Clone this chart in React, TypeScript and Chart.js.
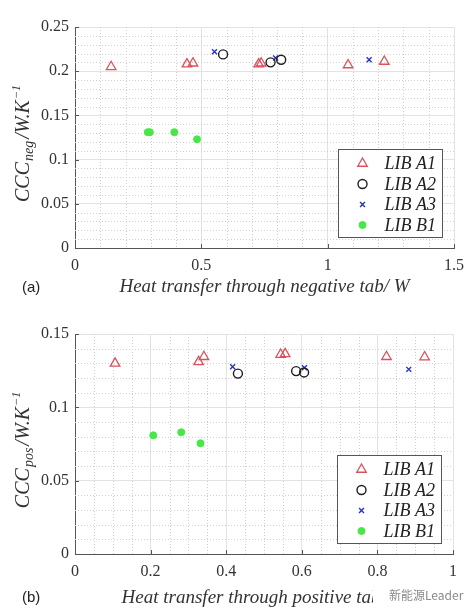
import React, { useEffect, useRef } from "react";
import { Chart, registerables } from "chart.js";

Chart.register(...registerables);

// ---------- data ----------
const seriesLabels = ["LIB A1", "LIB A2", "LIB A3", "LIB B1"];

// panel (a): negative tab
const negA1X = [0.143, 0.443, 0.467, 0.727, 0.737, 1.081, 1.224];
const negA1Y = [0.205, 0.208, 0.209, 0.208, 0.209, 0.207, 0.211];
const negA2X = [0.586, 0.774, 0.816];
const negA2Y = [0.219, 0.210, 0.213];
const negA3X = [0.552, 0.794, 1.164];
const negA3Y = [0.222, 0.215, 0.213];
const negB1X = [0.288, 0.296, 0.393, 0.483];
const negB1Y = [0.131, 0.131, 0.131, 0.123];

// panel (b): positive tab
const posA1X = [0.106, 0.327, 0.341, 0.544, 0.556, 0.824, 0.925];
const posA1Y = [0.130, 0.131, 0.1345, 0.136, 0.1365, 0.1345, 0.1343];
const posA2X = [0.431, 0.585, 0.606];
const posA2Y = [0.123, 0.1247, 0.1238];
const posA3X = [0.417, 0.607, 0.883];
const posA3Y = [0.1277, 0.127, 0.1259];
const posB1X = [0.207, 0.281, 0.332];
const posB1Y = [0.0809, 0.083, 0.0755];

// ticks
const negXTicks = [0, 0.5, 1, 1.5];
const negXTickLabels = ["0", "0.5", "1", "1.5"];
const negYTicks = [0, 0.05, 0.1, 0.15, 0.2, 0.25];
const negYTickLabels = ["0", "0.05", "0.1", "0.15", "0.2", "0.25"];
const posXTicks = [0, 0.2, 0.4, 0.6, 0.8, 1];
const posXTickLabels = ["0", "0.2", "0.4", "0.6", "0.8", "1"];
const posYTicks = [0, 0.05, 0.1, 0.15];
const posYTickLabels = ["0", "0.05", "0.1", "0.15"];

// titles
const negXTitle = "Heat transfer through negative tab/ W";
const posXTitle = "Heat transfer through positive tab/ W";
const negYTitleParts = ["CCC", "neg", "/W.K", "−1"];
const posYTitleParts = ["CCC", "pos", "/W.K", "−1"];
const panelLabels = ["(a)", "(b)"];
const watermarkText = "新能源Leader";

// ---------- styles ----------
const seriesStyles = [
  { pointStyle: "triangle", radius: 5.5, borderColor: "#dd4f5c", backgroundColor: "rgba(0,0,0,0)", borderWidth: 1.3 },
  { pointStyle: "circle", radius: 4.5, borderColor: "#1e1e1e", backgroundColor: "rgba(0,0,0,0)", borderWidth: 1.4 },
  { pointStyle: "crossRot", radius: 3.5, borderColor: "#2535c0", backgroundColor: "rgba(0,0,0,0)", borderWidth: 1.4 },
  { pointStyle: "circle", radius: 3.5, borderColor: "#45e845", backgroundColor: "#45e845", borderWidth: 1 },
];

const SERIF = '"Liberation Serif", "DejaVu Serif", serif';

function drawMarker(ctx: CanvasRenderingContext2D, s: any, x: number, y: number) {
  ctx.save();
  ctx.strokeStyle = s.borderColor;
  ctx.fillStyle = s.backgroundColor;
  ctx.lineWidth = s.borderWidth;
  const r = s.radius;
  ctx.beginPath();
  if (s.pointStyle === "triangle") {
    let rad = 0;
    ctx.moveTo(x + Math.sin(rad) * r, y - Math.cos(rad) * r);
    rad += (2 * Math.PI) / 3;
    ctx.lineTo(x + Math.sin(rad) * r, y - Math.cos(rad) * r);
    rad += (2 * Math.PI) / 3;
    ctx.lineTo(x + Math.sin(rad) * r, y - Math.cos(rad) * r);
    ctx.closePath();
    ctx.fill();
    ctx.stroke();
  } else if (s.pointStyle === "circle") {
    ctx.arc(x, y, r, 0, Math.PI * 2);
    ctx.closePath();
    ctx.fill();
    ctx.stroke();
  } else if (s.pointStyle === "crossRot") {
    const d = r * Math.cos(Math.PI / 4);
    ctx.moveTo(x - d, y - d);
    ctx.lineTo(x + d, y + d);
    ctx.moveTo(x + d, y - d);
    ctx.lineTo(x - d, y + d);
    ctx.stroke();
  }
  ctx.restore();
}

// ---------- plugins ----------
const minorGridPlugin = {
  id: "minorGrid",
  beforeDatasetsDraw(chart: any, _a: any, opts: any) {
    const { ctx, chartArea } = chart;
    const { left, right, top, bottom } = chartArea;
    const xs = chart.scales.x;
    const ys = chart.scales.y;
    ctx.save();
    ctx.strokeStyle = opts.color;
    ctx.lineWidth = 1;
    ctx.setLineDash([1, 2]);
    const nx = Math.round((xs.max - xs.min) / opts.xStep);
    for (let k = 1; k < nx; k++) {
      if (k % opts.xMajorEvery === 0) continue;
      const px = Math.round(xs.getPixelForValue(xs.min + k * opts.xStep)) + 0.5;
      ctx.beginPath();
      ctx.moveTo(px, top);
      ctx.lineTo(px, bottom);
      ctx.stroke();
    }
    const ny = Math.round((ys.max - ys.min) / opts.yStep);
    for (let k = 1; k < ny; k++) {
      if (k % opts.yMajorEvery === 0) continue;
      const py = Math.round(ys.getPixelForValue(ys.min + k * opts.yStep)) + 0.5;
      ctx.beginPath();
      ctx.moveTo(left, py);
      ctx.lineTo(right, py);
      ctx.stroke();
    }
    ctx.restore();
  },
};

const inTicksPlugin = {
  id: "inTicks",
  afterDatasetsDraw(chart: any) {
    const { ctx, chartArea } = chart;
    const xs = chart.scales.x;
    const ys = chart.scales.y;
    ctx.save();
    ctx.strokeStyle = "#555";
    ctx.lineWidth = 1;
    for (const t of xs.ticks) {
      const px = Math.round(xs.getPixelForValue(t.value)) + 0.5;
      ctx.beginPath();
      ctx.moveTo(px, chartArea.bottom);
      ctx.lineTo(px, chartArea.bottom - 4);
      ctx.stroke();
    }
    for (const t of ys.ticks) {
      const py = Math.round(ys.getPixelForValue(t.value)) + 0.5;
      ctx.beginPath();
      ctx.moveTo(chartArea.left, py);
      ctx.lineTo(chartArea.left + 4, py);
      ctx.stroke();
    }
    ctx.restore();
  },
};

const yTitlePlugin = {
  id: "yTitle",
  afterDraw(chart: any, _a: any, opts: any) {
    const { ctx, chartArea } = chart;
    const parts: string[] = opts.parts;
    const sizes = [20, 14, 20, 12];
    const shifts = [0, 4, 0, -9];
    const gaps = [1, 2, 1, 0];
    ctx.save();
    const cy = (chartArea.top + chartArea.bottom) / 2 + opts.offsetY;
    ctx.translate(opts.x, cy);
    ctx.rotate(-Math.PI / 2);
    let total = 0;
    const widths: number[] = [];
    parts.forEach((p, i) => {
      ctx.font = `italic ${sizes[i]}px ${SERIF}`;
      const w = ctx.measureText(p).width + gaps[i];
      widths.push(w);
      total += w;
    });
    let cx = -total / 2;
    ctx.fillStyle = "#333";
    ctx.textBaseline = "alphabetic";
    ctx.textAlign = "left";
    parts.forEach((p, i) => {
      ctx.font = `italic ${sizes[i]}px ${SERIF}`;
      ctx.fillText(p, cx, shifts[i]);
      cx += widths[i];
    });
    ctx.restore();
  },
};

const boxLegendPlugin = {
  id: "boxLegend",
  afterDraw(chart: any, _a: any, opts: any) {
    const { ctx, chartArea } = chart;
    const w = 104;
    const h = 88;
    const x0 = Math.round(chartArea.right - opts.right - w) + 0.5;
    const y0 = Math.round(chartArea.bottom - opts.bottom - h) + 0.5;
    ctx.save();
    ctx.fillStyle = "#fff";
    ctx.fillRect(x0, y0, w, h);
    ctx.strokeStyle = "#555";
    ctx.lineWidth = 1;
    ctx.strokeRect(x0, y0, w, h);
    chart.data.datasets.forEach((ds: any, i: number) => {
      const cy = y0 + 14 + i * 20.5;
      drawMarker(ctx, seriesStyles[i], x0 + 24, cy);
      ctx.fillStyle = "#222";
      ctx.font = `italic 18px ${SERIF}`;
      ctx.textBaseline = "middle";
      ctx.textAlign = "left";
      ctx.fillText(ds.label, x0 + 46, cy + 1);
    });
    ctx.restore();
  },
};

// ---------- config ----------
function makeDatasets(xs: number[][], ys: number[][]) {
  return xs.map((xArr, i) => {
    const s = seriesStyles[i];
    return {
      label: seriesLabels[i],
      data: xArr.map((x, j) => ({ x, y: ys[i][j] })),
      pointStyle: s.pointStyle,
      pointRadius: s.radius,
      pointBorderColor: s.borderColor,
      pointBackgroundColor: s.backgroundColor,
      pointBorderWidth: s.borderWidth,
      showLine: false,
    };
  });
}

type Spec = {
  xs: number[][];
  ys: number[][];
  xMax: number;
  yMax: number;
  xTicks: number[];
  xTickLabels: string[];
  yTicks: number[];
  yTickLabels: string[];
  xTitle: string;
  yTitleParts: string[];
  padTop: number;
  padRight: number;
  xAxisHeight: number;
  xTitlePadBottom: number;
  xStep: number;
  xMajorEvery: number;
};

function makeConfig(p: Spec): any {
  const tickFont = { family: SERIF, size: 16 };
  return {
    type: "scatter",
    data: { datasets: makeDatasets(p.xs, p.ys) },
    options: {
      animation: false,
      responsive: false,
      events: [],
      layout: { padding: { left: 0, right: p.padRight, top: p.padTop, bottom: 0 } },
      plugins: {
        legend: { display: false },
        tooltip: { enabled: false },
        minorGrid: { color: "#d0d0d0", xStep: p.xStep, xMajorEvery: p.xMajorEvery, yStep: 0.01, yMajorEvery: 5 },
        yTitle: { parts: p.yTitleParts, x: 29, offsetY: 6 },
        boxLegend: { right: 12, bottom: 11 },
      },
      scales: {
        x: {
          type: "linear",
          min: 0,
          max: p.xMax,
          afterBuildTicks: (ax: any) => {
            ax.ticks = p.xTicks.map((v) => ({ value: v }));
          },
          afterFit: (ax: any) => {
            ax.height = p.xAxisHeight;
          },
          ticks: {
            callback: (_v: any, i: number) => p.xTickLabels[i],
            padding: 8,
            color: "#333",
            font: tickFont,
            maxRotation: 0,
            autoSkip: false,
          },
          grid: { color: "#e2e2e2", drawTicks: false },
          border: { color: "#555", width: 1 },
          title: {
            display: true,
            text: p.xTitle,
            color: "#333",
            font: { family: SERIF, size: 19, style: "italic" },
            padding: { top: 0, bottom: p.xTitlePadBottom },
          },
        },
        y: {
          type: "linear",
          min: 0,
          max: p.yMax,
          afterBuildTicks: (ax: any) => {
            ax.ticks = p.yTicks.map((v) => ({ value: v }));
          },
          afterFit: (ax: any) => {
            ax.width = 75;
          },
          ticks: {
            callback: (_v: any, i: number) => p.yTickLabels[i],
            padding: 6,
            color: "#333",
            font: tickFont,
            autoSkip: false,
          },
          grid: { color: "#e2e2e2", drawTicks: false },
          border: { color: "#555", width: 1 },
        },
      },
    },
    plugins: [minorGridPlugin, inTicksPlugin, yTitlePlugin, boxLegendPlugin],
  };
}

const specA: Spec = {
  xs: [negA1X, negA2X, negA3X, negB1X],
  ys: [negA1Y, negA2Y, negA3Y, negB1Y],
  xMax: 1.5,
  yMax: 0.25,
  xTicks: negXTicks,
  xTickLabels: negXTickLabels,
  yTicks: negYTicks,
  yTickLabels: negYTickLabels,
  xTitle: negXTitle,
  yTitleParts: negYTitleParts,
  padTop: 27,
  padRight: 20,
  xAxisHeight: 57,
  xTitlePadBottom: 6.5,
  xStep: 0.1,
  xMajorEvery: 5,
};

const specB: Spec = {
  xs: [posA1X, posA2X, posA3X, posB1X],
  ys: [posA1Y, posA2Y, posA3Y, posB1Y],
  xMax: 1,
  yMax: 0.15,
  xTicks: posXTicks,
  xTickLabels: posXTickLabels,
  yTicks: posYTicks,
  yTickLabels: posYTickLabels,
  xTitle: posXTitle,
  yTitleParts: posYTitleParts,
  padTop: 29,
  padRight: 21,
  xAxisHeight: 60,
  xTitlePadBottom: 4.5,
  xStep: 0.05,
  xMajorEvery: 4,
};

function Panel({ spec, top, height }: { spec: Spec; top: number; height: number }) {
  const ref = useRef<HTMLCanvasElement>(null);
  useEffect(() => {
    const chart = new Chart(ref.current as HTMLCanvasElement, makeConfig(spec));
    return () => chart.destroy();
  }, []);
  return (
    <canvas
      ref={ref}
      width={474}
      height={height}
      style={{ position: "absolute", left: 0, top, width: 474, height, display: "block" }}
    />
  );
}

export default function App() {
  const labelStyle: React.CSSProperties = {
    position: "absolute",
    left: 22,
    font: '15px "Liberation Sans", Arial, sans-serif',
    color: "#222",
    lineHeight: "18px",
  };
  return (
    <div style={{ position: "fixed", left: 0, top: 0, width: 474, height: 614, background: "#fff", overflow: "hidden" }}>
      <Panel spec={specA} top={0} height={305} />
      <Panel spec={specB} top={305} height={309} />
      <div style={{ ...labelStyle, top: 278 }}>{panelLabels[0]}</div>
      <div style={{ ...labelStyle, top: 588 }}>{panelLabels[1]}</div>
      <div
        style={{
          position: "absolute",
          left: 373,
          top: 584,
          width: 92,
          height: 22,
          background: "#fff",
          color: "#8a8a8a",
          font: '12px "Noto Sans CJK SC", "Noto Sans", sans-serif',
          lineHeight: "22px",
          paddingLeft: 16,
          boxSizing: "border-box",
          whiteSpace: "nowrap",
        }}
      >
        {watermarkText}
      </div>
    </div>
  );
}
